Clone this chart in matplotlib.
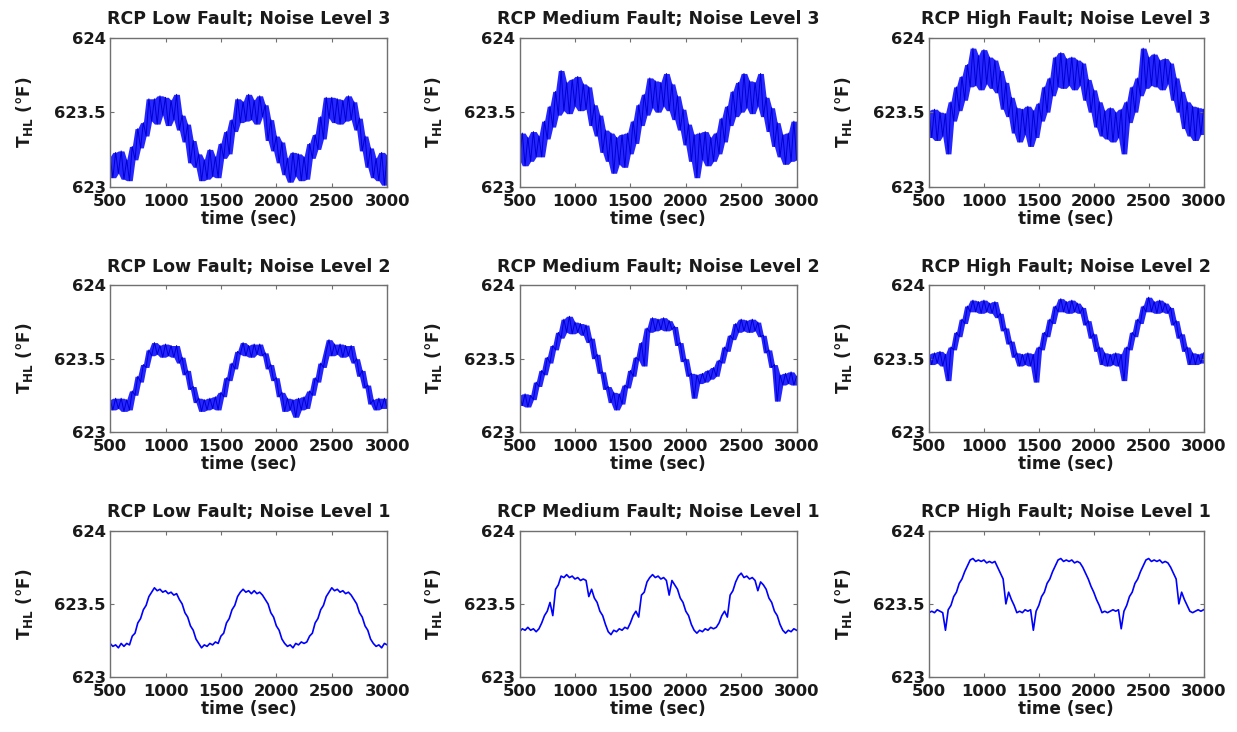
import numpy as np
import pandas as pd
import matplotlib
matplotlib.use("Agg")
import matplotlib.pyplot as plt

plt.rcParams["font.family"] = ["DejaVu Sans"]
plt.rcParams["font.weight"] = "bold"
plt.rcParams["mathtext.fontset"] = "custom"
plt.rcParams["mathtext.rm"] = "DejaVu Sans:bold"
plt.rcParams["mathtext.it"] = "DejaVu Sans:bold"
plt.rcParams["mathtext.bf"] = "DejaVu Sans:bold"

time_sec = np.arange(500, 3001, 25)

low_n3 = [
    623.20, 623.06, 623.23, 623.09, 623.24, 623.05, 623.18, 623.04, 623.27, 623.18,
    623.39, 623.26, 623.43, 623.34, 623.59, 623.44, 623.59, 623.42, 623.61, 623.48,
    623.60, 623.41, 623.58, 623.45, 623.62, 623.38, 623.48, 623.30, 623.42, 623.16,
    623.31, 623.13, 623.22, 623.04, 623.18, 623.05, 623.25, 623.07, 623.20, 623.06,
    623.29, 623.19, 623.37, 623.22, 623.45, 623.37, 623.59, 623.43, 623.57, 623.44,
    623.62, 623.45, 623.58, 623.42, 623.61, 623.47, 623.55, 623.31, 623.45, 623.24,
    623.34, 623.16, 623.30, 623.08, 623.19, 623.03, 623.23, 623.07, 623.22, 623.04,
    623.20, 623.05, 623.29, 623.19, 623.35, 623.25, 623.47, 623.32, 623.60, 623.46,
    623.60, 623.43, 623.59, 623.42, 623.58, 623.44, 623.61, 623.45, 623.57, 623.38,
    623.46, 623.24, 623.34, 623.13, 623.26, 623.06, 623.19, 623.04, 623.23, 623.01,
    623.21]

med_n3 = [
    623.18, 623.36, 623.14, 623.33, 623.17, 623.37, 623.20, 623.34, 623.20, 623.44,
    623.32, 623.54, 623.40, 623.64, 623.48, 623.78, 623.51, 623.70, 623.49, 623.72,
    623.54, 623.74, 623.51, 623.69, 623.52, 623.67, 623.41, 623.55, 623.34, 623.48,
    623.23, 623.38, 623.17, 623.36, 623.09, 623.33, 623.15, 623.35, 623.13, 623.36,
    623.22, 623.44, 623.29, 623.55, 623.41, 623.62, 623.48, 623.73, 623.53, 623.71,
    623.50, 623.70, 623.54, 623.76, 623.51, 623.69, 623.45, 623.61, 623.38, 623.52,
    623.28, 623.42, 623.17, 623.35, 623.06, 623.36, 623.18, 623.37, 623.14, 623.33,
    623.17, 623.36, 623.22, 623.46, 623.30, 623.54, 623.41, 623.64, 623.47, 623.70,
    623.50, 623.76, 623.53, 623.71, 623.49, 623.70, 623.54, 623.76, 623.47, 623.60,
    623.37, 623.53, 623.27, 623.43, 623.20, 623.35, 623.15, 623.36, 623.17, 623.44,
    623.18]

high_n3 = [
    623.51, 623.33, 623.52, 623.31, 623.50, 623.34, 623.49, 623.22, 623.57, 623.44,
    623.67, 623.51, 623.74, 623.58, 623.82, 623.67, 623.93, 623.68, 623.88, 623.65,
    623.92, 623.69, 623.87, 623.66, 623.85, 623.63, 623.78, 623.52, 623.70, 623.47,
    623.60, 623.36, 623.53, 623.30, 623.52, 623.35, 623.54, 623.27, 623.51, 623.33,
    623.56, 623.44, 623.67, 623.50, 623.73, 623.61, 623.87, 623.67, 623.90, 623.66,
    623.86, 623.68, 623.87, 623.65, 623.85, 623.68, 623.83, 623.58, 623.72, 623.50,
    623.65, 623.40, 623.57, 623.34, 623.51, 623.32, 623.53, 623.30, 623.50, 623.33,
    623.52, 623.22, 623.57, 623.43, 623.67, 623.50, 623.73, 623.61, 623.93, 623.66,
    623.87, 623.68, 623.89, 623.67, 623.85, 623.65, 623.86, 623.69, 623.83, 623.58,
    623.73, 623.50, 623.64, 623.39, 623.57, 623.34, 623.54, 623.31, 623.53, 623.35,
    623.52]

low_n2 = [
    623.22, 623.15, 623.23, 623.16, 623.23, 623.14, 623.22, 623.15, 623.28, 623.25,
    623.38, 623.34, 623.46, 623.44, 623.56, 623.52, 623.61, 623.53, 623.59, 623.51,
    623.60, 623.52, 623.59, 623.51, 623.59, 623.47, 623.51, 623.39, 623.42, 623.29,
    623.31, 623.20, 623.23, 623.14, 623.22, 623.15, 623.23, 623.16, 623.24, 623.15,
    623.27, 623.24, 623.37, 623.35, 623.47, 623.43, 623.55, 623.53, 623.61, 623.52,
    623.59, 623.51, 623.60, 623.53, 623.60, 623.52, 623.54, 623.43, 623.46, 623.35,
    623.37, 623.24, 623.27, 623.14, 623.23, 623.15, 623.22, 623.10, 623.23, 623.15,
    623.24, 623.16, 623.28, 623.25, 623.37, 623.34, 623.47, 623.44, 623.55, 623.63,
    623.52, 623.60, 623.53, 623.60, 623.51, 623.59, 623.52, 623.59, 623.47, 623.50,
    623.38, 623.42, 623.30, 623.32, 623.19, 623.22, 623.15, 623.23, 623.16, 623.23,
    623.16]

med_n2 = [
    623.25, 623.18, 623.26, 623.17, 623.25, 623.22, 623.34, 623.31, 623.42, 623.39,
    623.51, 623.47, 623.59, 623.56, 623.68, 623.64, 623.77, 623.68, 623.79, 623.67,
    623.75, 623.68, 623.74, 623.66, 623.73, 623.61, 623.64, 623.50, 623.53, 623.40,
    623.41, 623.29, 623.31, 623.20, 623.27, 623.15, 623.26, 623.19, 623.32, 623.30,
    623.42, 623.38, 623.51, 623.49, 623.61, 623.45, 623.71, 623.68, 623.78, 623.69,
    623.77, 623.70, 623.78, 623.69, 623.76, 623.70, 623.72, 623.59, 623.61, 623.48,
    623.50, 623.38, 623.40, 623.23, 623.39, 623.33, 623.40, 623.34, 623.42, 623.36,
    623.44, 623.38, 623.49, 623.47, 623.58, 623.55, 623.66, 623.63, 623.74, 623.68,
    623.77, 623.69, 623.76, 623.68, 623.77, 623.69, 623.75, 623.65, 623.66, 623.54,
    623.56, 623.44, 623.46, 623.21, 623.39, 623.32, 623.40, 623.33, 623.41, 623.32,
    623.38]

high_n2 = [
    623.53, 623.46, 623.54, 623.47, 623.55, 623.45, 623.53, 623.35, 623.58, 623.56,
    623.68, 623.65, 623.77, 623.74, 623.86, 623.82, 623.90, 623.82, 623.89, 623.81,
    623.90, 623.82, 623.88, 623.81, 623.89, 623.78, 623.81, 623.69, 623.71, 623.60,
    623.62, 623.51, 623.54, 623.45, 623.53, 623.46, 623.54, 623.45, 623.53, 623.34,
    623.58, 623.56, 623.68, 623.65, 623.77, 623.74, 623.86, 623.82, 623.91, 623.82,
    623.89, 623.81, 623.90, 623.82, 623.88, 623.81, 623.85, 623.73, 623.76, 623.64,
    623.67, 623.55, 623.58, 623.46, 623.54, 623.45, 623.53, 623.46, 623.54, 623.45,
    623.53, 623.35, 623.58, 623.56, 623.68, 623.65, 623.77, 623.74, 623.86, 623.82,
    623.92, 623.82, 623.89, 623.81, 623.90, 623.82, 623.88, 623.81, 623.85, 623.73,
    623.76, 623.64, 623.67, 623.55, 623.58, 623.46, 623.54, 623.46, 623.53, 623.47,
    623.54]

low_n1 = [
    623.23, 623.21, 623.22, 623.20, 623.23, 623.21, 623.23, 623.22, 623.28, 623.30,
    623.37, 623.40, 623.46, 623.49, 623.55, 623.58, 623.61, 623.59, 623.60, 623.58,
    623.59, 623.57, 623.58, 623.56, 623.57, 623.53, 623.50, 623.44, 623.41, 623.35,
    623.32, 623.26, 623.23, 623.20, 623.22, 623.21, 623.23, 623.22, 623.24, 623.23,
    623.28, 623.30, 623.37, 623.40, 623.46, 623.49, 623.55, 623.58, 623.60, 623.58,
    623.59, 623.57, 623.59, 623.57, 623.58, 623.56, 623.53, 623.50, 623.44, 623.41,
    623.35, 623.32, 623.26, 623.23, 623.21, 623.22, 623.20, 623.23, 623.22, 623.24,
    623.23, 623.24, 623.28, 623.30, 623.37, 623.40, 623.46, 623.49, 623.55, 623.58,
    623.61, 623.59, 623.60, 623.58, 623.59, 623.57, 623.58, 623.56, 623.53, 623.50,
    623.44, 623.41, 623.35, 623.32, 623.26, 623.23, 623.21, 623.22, 623.20, 623.23,
    623.22]

med_n1 = [
    623.31, 623.33, 623.32, 623.34, 623.32, 623.33, 623.31, 623.33, 623.37, 623.42,
    623.45, 623.51, 623.42, 623.60, 623.63, 623.69, 623.68, 623.70, 623.68, 623.69,
    623.67, 623.68, 623.66, 623.67, 623.66, 623.55, 623.60, 623.54, 623.51, 623.45,
    623.42, 623.36, 623.31, 623.29, 623.32, 623.31, 623.33, 623.32, 623.34, 623.33,
    623.37, 623.42, 623.45, 623.41, 623.56, 623.58, 623.65, 623.68, 623.70, 623.68,
    623.69, 623.67, 623.68, 623.66, 623.56, 623.66, 623.63, 623.60, 623.54, 623.51,
    623.45, 623.42, 623.36, 623.32, 623.30, 623.32, 623.31, 623.33, 623.32, 623.34,
    623.33, 623.34, 623.37, 623.42, 623.45, 623.41, 623.56, 623.59, 623.65, 623.69,
    623.71, 623.68, 623.69, 623.67, 623.68, 623.66, 623.59, 623.65, 623.63, 623.60,
    623.54, 623.51, 623.45, 623.42, 623.36, 623.32, 623.30, 623.32, 623.31, 623.33,
    623.32]

high_n1 = [
    623.44, 623.45, 623.44, 623.46, 623.45, 623.44, 623.32, 623.46, 623.49, 623.55,
    623.58, 623.64, 623.67, 623.72, 623.76, 623.80, 623.81, 623.79, 623.80, 623.79,
    623.80, 623.78, 623.79, 623.78, 623.79, 623.75, 623.71, 623.67, 623.50, 623.58,
    623.53, 623.49, 623.44, 623.45, 623.44, 623.46, 623.45, 623.46, 623.32, 623.45,
    623.49, 623.55, 623.58, 623.64, 623.67, 623.72, 623.76, 623.80, 623.81, 623.79,
    623.80, 623.79, 623.80, 623.78, 623.79, 623.78, 623.75, 623.71, 623.67, 623.62,
    623.58, 623.53, 623.49, 623.44, 623.45, 623.44, 623.45, 623.46, 623.45, 623.46,
    623.33, 623.45, 623.49, 623.55, 623.58, 623.64, 623.67, 623.72, 623.76, 623.80,
    623.81, 623.79, 623.80, 623.79, 623.80, 623.78, 623.79, 623.78, 623.75, 623.71,
    623.67, 623.50, 623.58, 623.53, 623.49, 623.45, 623.44, 623.45, 623.46, 623.45,
    623.46]

fault_names = ["Low", "Medium", "High"]
noise_levels = [3, 2, 1]
series = [
    [low_n3, med_n3, high_n3],
    [low_n2, med_n2, high_n2],
    [low_n1, med_n1, high_n1],
]

x_ticks = [500, 1000, 1500, 2000, 2500, 3000]
y_ticks = [623, 623.5, 624]
y_tick_labels = ["623", "623.5", "624"]

fig = plt.figure(figsize=(12.37, 7.32), dpi=100)

lefts = [0.089, 0.420, 0.751]
widths = [0.224, 0.224, 0.222]
bottoms = [0.745, 0.410, 0.075]
heights = [0.2035, 0.200, 0.200]

frame_color = "#707070"
text_color = "#1a1a1a"

for r in range(3):
    for c in range(3):
        ax = fig.add_axes([lefts[c], bottoms[r], widths[c], heights[r]])
        vals = pd.Series(series[r][c])
        if noise_levels[r] > 1:
            # the dense noise shows as a solid band between local min and max
            upper = vals.rolling(3, center=True, min_periods=1).max()
            lower = vals.rolling(3, center=True, min_periods=1).min()
            ax.fill_between(time_sec, lower, upper, color="#2626ff",
                            linewidth=0)
            ax.plot(time_sec, vals, color="#0000d0", linewidth=0.7)
        else:
            ax.plot(time_sec, vals, color="#0000ff", linewidth=1.2)
        ax.set_xlim(500, 3000)
        ax.set_ylim(623, 624)
        ax.set_xticks(x_ticks)
        ax.set_yticks(y_ticks)
        ax.set_yticklabels(y_tick_labels)
        ax.tick_params(direction="in", top=True, right=True, length=3,
                       width=0.8, labelsize=11.8, colors=frame_color,
                       labelcolor=text_color)
        ax.tick_params(axis="x", pad=5)
        ax.tick_params(axis="y", pad=3)
        for sp in ax.spines.values():
            sp.set_color(frame_color)
            sp.set_linewidth(1.0)
        ax.set_title(f"RCP {fault_names[c]} Fault; Noise Level {noise_levels[r]}",
                     fontsize=12.5, fontweight="bold", color=text_color, pad=10)
        ax.set_xlabel("time (sec)", fontsize=12.2, fontweight="bold",
                      color=text_color, labelpad=1)
        ax.set_ylabel(r"T$_{\rm HL}$ (°F)", fontsize=12.2, fontweight="bold",
                      color=text_color, labelpad=14)

fig.savefig("out.png", dpi=100)
